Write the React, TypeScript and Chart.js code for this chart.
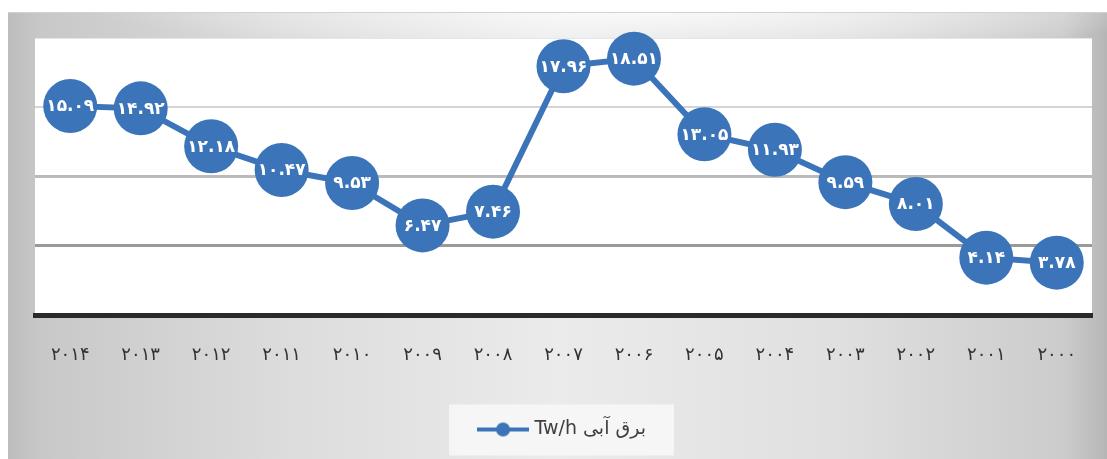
import React, { useEffect, useRef } from "react";
import { Chart, registerables } from "chart.js";

Chart.register(...registerables);

const years = ["۲۰۱۴", "۲۰۱۳", "۲۰۱۲", "۲۰۱۱", "۲۰۱۰", "۲۰۰۹", "۲۰۰۸", "۲۰۰۷", "۲۰۰۶", "۲۰۰۵", "۲۰۰۴", "۲۰۰۳", "۲۰۰۲", "۲۰۰۱", "۲۰۰۰"];
const hydroValues = [15.09, 14.92, 12.18, 10.47, 9.53, 6.47, 7.46, 17.96, 18.51, 13.05, 11.93, 9.59, 8.01, 4.14, 3.78];
const seriesLabel = "Tw/h برق آبی";
const yMin = 0;
const yMax = 20;
const yStep = 5;

const BLUE = "#3C74BA";
const FONT = '"DejaVu Sans", sans-serif';

const toPersian = (s: string) => s.replace(/[0-9]/g, (d) => "۰۱۲۳۴۵۶۷۸۹"[Number(d)]);

function makeLegendMarker() {
  const c = document.createElement("canvas");
  c.width = 52;
  c.height = 16;
  const ctx = c.getContext("2d")!;
  ctx.strokeStyle = BLUE;
  ctx.lineWidth = 4;
  ctx.beginPath();
  ctx.moveTo(0, 8);
  ctx.lineTo(52, 8);
  ctx.stroke();
  ctx.fillStyle = BLUE;
  ctx.beginPath();
  ctx.arc(26, 8, 7, 0, Math.PI * 2);
  ctx.fill();
  return c;
}

const backgroundPlugin = {
  id: "bgPlugin",
  beforeDraw(chart: any) {
    const { ctx, width, height, chartArea } = chart;
    ctx.save();
    const g = ctx.createLinearGradient(0, 0, width, 0);
    g.addColorStop(0, "#bdbdbd");
    g.addColorStop(0.03, "#c8c8c8");
    g.addColorStop(0.25, "#dcdcdc");
    g.addColorStop(0.5, "#ebebeb");
    g.addColorStop(0.75, "#e0e0e0");
    g.addColorStop(0.96, "#cccccc");
    g.addColorStop(1, "#b6b6b6");
    ctx.fillStyle = g;
    ctx.fillRect(0, 0, width, height);
    // soft light glow along the top edge
    ctx.save();
    ctx.translate(width * 0.58, 0);
    ctx.scale(1, 0.07);
    const rg = ctx.createRadialGradient(0, 0, 0, 0, 0, width * 0.5);
    rg.addColorStop(0, "rgba(255,255,255,0.75)");
    rg.addColorStop(1, "rgba(255,255,255,0)");
    ctx.fillStyle = rg;
    ctx.fillRect(-width, 0, width * 2, 40 / 0.07);
    ctx.restore();
    ctx.fillStyle = "#d2d2d2";
    ctx.fillRect(0, 0, width, 1);
    ctx.fillStyle = "#ffffff";
    ctx.fillRect(chartArea.left, chartArea.top, chartArea.right - chartArea.left, chartArea.bottom - chartArea.top);
    const lg = chart.legend;
    if (lg && lg.legendHitBoxes && lg.legendHitBoxes.length) {
      const hb = lg.legendHitBoxes;
      let l = Infinity, r = -Infinity, t = Infinity, b = -Infinity;
      hb.forEach((h: any) => {
        l = Math.min(l, h.left);
        r = Math.max(r, h.left + h.width);
        t = Math.min(t, h.top);
        b = Math.max(b, h.top + h.height);
      });
      const cy = (t + b) / 2;
      ctx.fillStyle = "rgba(248,248,248,0.85)";
      ctx.fillRect(l - 32, cy - 25, r - l + 60, 51);
    }
    ctx.restore();
  },
};

const labelPlugin = {
  id: "pointLabels",
  afterDatasetsDraw(chart: any) {
    const { ctx } = chart;
    const meta = chart.getDatasetMeta(0);
    const data = chart.data.datasets[0].data as number[];
    ctx.save();
    ctx.fillStyle = "#ffffff";
    ctx.font = `bold 17px ${FONT}`;
    ctx.textAlign = "center";
    ctx.textBaseline = "middle";
    meta.data.forEach((pt: any, i: number) => {
      ctx.fillText(toPersian(data[i].toFixed(2)), pt.x, pt.y + 1);
    });
    ctx.restore();
  },
};

export default function App() {
  const ref = useRef<HTMLCanvasElement | null>(null);
  useEffect(() => {
    if (!ref.current) return;
    const marker = makeLegendMarker();
    const chart = new Chart(ref.current, {
      type: "line",
      data: {
        labels: years,
        datasets: [
          {
            label: seriesLabel,
            data: hydroValues,
            borderColor: BLUE,
            backgroundColor: BLUE,
            borderWidth: 6,
            pointRadius: 27,
            pointHoverRadius: 27,
            pointBackgroundColor: BLUE,
            pointBorderWidth: 0,
            tension: 0,
            clip: false as any,
          },
        ],
      },
      options: {
        animation: false,
        responsive: false,
        maintainAspectRatio: false,
        layout: { autoPadding: false, padding: { top: 26, right: 15, bottom: 10, left: 27 } },
        plugins: {
          tooltip: { enabled: false },
          legend: {
            position: "bottom",
            labels: {
              usePointStyle: true,
              pointStyle: marker as any,
              pointStyleWidth: 44,
              color: "#404040",
              font: { size: 19, family: FONT },
              padding: 10,
            },
          },
        },
        scales: {
          x: {
            offset: true,
            grid: { display: false, drawTicks: false },
            border: { display: true, color: "#2a2a2a", width: 5 },
            ticks: {
              color: "#333333",
              font: { size: 18, family: FONT },
              padding: 30,
              maxRotation: 0,
              autoSkip: false,
            },
            afterFit: (s: any) => {
              s.height = 95;
              s.paddingLeft = 0;
              s.paddingRight = 0;
            },
          },
          y: {
            min: yMin,
            max: yMax,
            ticks: { display: false, stepSize: yStep },
            border: { display: false },
            grid: {
              drawTicks: false,
              color: (c: any) => {
                const v = c.tick.value;
                if (v === 0) return "#2a2a2a";
                if (v === 5) return "#9a9a9a";
                if (v === 10) return "#bababa";
                if (v === 15) return "#d4d4d4";
                return "#e6e6e6";
              },
              lineWidth: (c: any) => {
                const v = c.tick.value;
                if (v === 0) return 5;
                if (v === 20) return 1;
                return v === 15 ? 2 : 3;
              },
            },
            afterFit: (s: any) => {
              s.width = 0;
            },
          },
        },
      },
      plugins: [backgroundPlugin, labelPlugin],
    });
    return () => chart.destroy();
  }, []);
  return (
    <div style={{ position: "absolute", left: 8, top: 12, width: 1099, height: 447 }}>
      <canvas ref={ref} width={1099} height={447} style={{ display: "block" }} />
    </div>
  );
}
